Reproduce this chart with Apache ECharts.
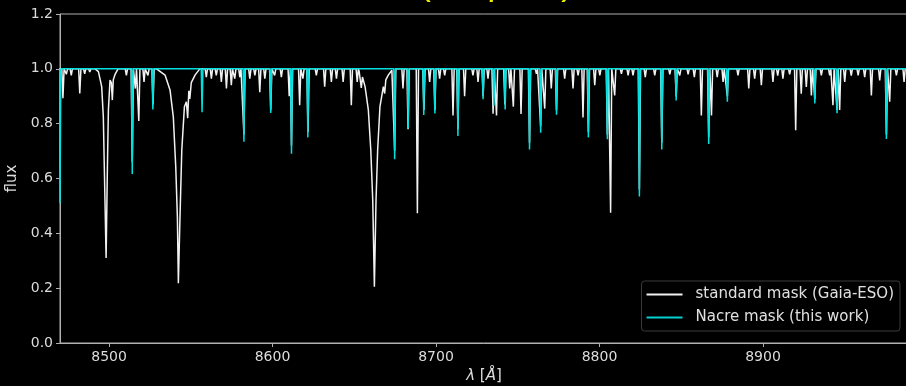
<!DOCTYPE html>
<html>
<head>
<meta charset="utf-8">
<script src="https://cdn.jsdelivr.net/npm/echarts@6/dist/echarts.min.js"></script>
<style>
html, body { margin: 0; padding: 0; background: #000; }
#chart { width: 906px; height: 386px; }
</style>
</head>
<body>
<div id="chart"></div>
<script>
var xTicks = [8500, 8600, 8700, 8800, 8900];
var yTicks = [0, 0.2, 0.4, 0.6, 0.8, 1.0, 1.2];
var seriesNames = ['standard mask (Gaia-ESO)', 'Nacre mask (this work)'];
var titleText = '(template)';

// Ca II triplet, broad profiles [wavelength, flux]
var ca8498 = [[8491.5, 1.0], [8493.5, 0.99], [8495.5, 0.935], [8496.5, 0.825], [8497.1, 0.643],
    [8498.2, 0.31], [8499.0, 0.643], [8499.6, 0.85], [8500.6, 0.959], [8501.4, 0.95],
    [8502.0, 0.886], [8502.6, 0.96], [8503.7, 0.98], [8505.5, 1.0]];
var ca8542 = [[8529.0, 1.0], [8534.3, 0.977], [8537.3, 0.923], [8539.3, 0.825], [8540.8, 0.643],
    [8541.8, 0.46], [8542.4, 0.218], [8543.4, 0.46], [8544.5, 0.704], [8546.1, 0.862],
    [8547.3, 0.88], [8548.1, 0.82], [8548.8, 0.92], [8549.4, 0.89], [8550.3, 0.95],
    [8552.6, 0.977], [8555.5, 1.0]];
var ca8662 = [[8653.0, 0.99], [8654.3, 0.93], [8655.0, 0.97], [8656.6, 0.935], [8658.6, 0.85],
    [8660.1, 0.704], [8661.3, 0.52], [8662.3, 0.205], [8663.3, 0.52], [8664.3, 0.704],
    [8665.7, 0.862], [8667.8, 0.935], [8668.6, 0.91], [8669.3, 0.96], [8670.8, 0.977],
    [8673.0, 0.995]];

// narrow lines of the standard mask [centre, flux at centre]
var standardLines = [
    [8471.8, 0.893], [8473.9, 0.98], [8476.9, 0.976], [8482.1, 0.91], [8485.1, 0.982], [8488.2, 0.988],
    [8510.6, 0.976], [8514.2, 0.66], [8516.1, 0.928], [8518.2, 0.81], [8521.4, 0.952], [8523.8, 0.976],
    [8526.9, 0.87], [8559.5, 0.97], [8562.6, 0.964], [8565.6, 0.976], [8568.7, 0.952], [8571.8, 0.928],
    [8574.8, 0.94], [8576.9, 0.964], [8580.0, 0.97], [8582.5, 0.76], [8586.1, 0.964], [8589.2, 0.976],
    [8592.2, 0.915], [8595.3, 0.964], [8598.9, 0.85], [8601.3, 0.976], [8605.4, 0.97], [8610.2, 0.90],
    [8611.6, 0.72], [8616.6, 0.867], [8618.6, 0.964], [8621.7, 0.77], [8626.8, 0.976], [8631.9, 0.935],
    [8636.0, 0.952], [8639.1, 0.964], [8643.2, 0.952], [8648.2, 0.867], [8651.8, 0.952],
    [8674.7, 0.70], [8679.8, 0.928], [8682.9, 0.78], [8688.6, 0.473], [8692.6, 0.85], [8696.1, 0.952],
    [8699.3, 0.85], [8702.2, 0.964], [8705.3, 0.976], [8710.4, 0.83], [8713.4, 0.78], [8717.5, 0.90],
    [8722.6, 0.976], [8725.7, 0.952], [8728.8, 0.90], [8731.8, 0.964], [8734.9, 0.836], [8737.0, 0.83],
    [8742.1, 0.87], [8745.1, 0.928], [8747.3, 0.862], [8752.0, 0.835], [8757.2, 0.73], [8761.4, 0.982],
    [8764.0, 0.79], [8766.5, 0.855], [8770.5, 0.928], [8773.7, 0.85], [8778.7, 0.964], [8783.8, 0.928],
    [8786.9, 0.976], [8789.9, 0.823], [8793.2, 0.77], [8797.1, 0.94], [8800.2, 0.976], [8804.8, 0.76],
    [8806.8, 0.475], [8809.3, 0.903], [8813.4, 0.982], [8817.5, 0.976], [8820.5, 0.976], [8824.4, 0.56],
    [8828.0, 0.97], [8833.8, 0.976], [8838.1, 0.73], [8843.0, 0.98], [8846.9, 0.90], [8849.1, 0.976],
    [8854.2, 0.98], [8858.0, 0.97], [8862.3, 0.83], [8866.8, 0.75], [8868.5, 0.83], [8872.0, 0.97],
    [8875.6, 0.952], [8878.2, 0.90], [8884.7, 0.976], [8891.3, 0.928], [8894.9, 0.964], [8899.0, 0.94],
    [8906.1, 0.952], [8909.0, 0.975], [8912.2, 0.964], [8916.3, 0.98], [8920.0, 0.776], [8923.4, 0.909],
    [8926.5, 0.934], [8929.6, 0.903], [8931.7, 0.89], [8935.7, 0.976], [8940.8, 0.976], [8942.8, 0.867],
    [8945.3, 0.85], [8946.9, 0.85], [8950.0, 0.952], [8954.0, 0.975], [8958.2, 0.976], [8962.2, 0.97],
    [8966.3, 0.903], [8971.4, 0.958], [8975.5, 0.76], [8977.5, 0.88], [8981.6, 0.976], [8986.3, 0.952]
];

// Nacre mask lines [centre, flux at centre]
var nacreLines = [
    [8470.0, 0.51], [8514.2, 0.616], [8526.8, 0.852], [8556.9, 0.842], [8582.5, 0.734], [8598.9, 0.839],
    [8611.6, 0.69], [8621.6, 0.75], [8674.7, 0.67], [8683.0, 0.783], [8692.5, 0.832], [8699.3, 0.837],
    [8713.4, 0.755], [8728.8, 0.889], [8735.4, 0.865], [8742.3, 0.852], [8757.2, 0.706], [8764.0, 0.767],
    [8773.7, 0.833], [8793.2, 0.75], [8804.8, 0.743], [8824.4, 0.534], [8838.1, 0.706], [8846.9, 0.885],
    [8866.8, 0.726], [8878.2, 0.88], [8931.7, 0.874], [8945.3, 0.838], [8975.5, 0.744]
];

function buildSpectrum(lines, halfWidth, profiles) {
    var pts = [[8460, 1], [8995, 1]];
    lines.forEach(function (l) {
        pts.push([l[0] - halfWidth, 1], [l[0], l[1]], [l[0] + halfWidth, 1]);
    });
    profiles.forEach(function (p) {
        p.forEach(function (q) { pts.push(q); });
    });
    pts.sort(function (a, b) { return a[0] - b[0]; });
    return pts;
}

var standardData = buildSpectrum(standardLines, 0.7, [ca8498, ca8542, ca8662]);
var nacreData = buildSpectrum(nacreLines, 0.5, []);

var axisColor = '#b0b0b0';
var labelColor = '#dcdcdc';

var myChart = echarts.init(document.getElementById('chart'));
var option = {
    backgroundColor: '#000',
    animation: false,
    textStyle: { fontFamily: 'DejaVu Sans' },
    // title sits above the crop, only its descenders show
    graphic: [{
        type: 'text',
        x: 496,
        y: -14,
        style: {
            text: titleText,
            fill: '#f2f200',
            font: '34px Liberation Sans',
            align: 'center',
            verticalAlign: 'middle'
        }
    }],
    grid: {
        left: 60, right: -2, top: 14, bottom: 43,
        outerBoundsMode: 'none',
        containLabel: false,
        show: true, borderColor: axisColor, borderWidth: 1
    },
    legend: {
        data: seriesNames,
        orient: 'vertical',
        right: 6,
        top: 281,
        icon: 'rect',
        itemWidth: 36,
        itemHeight: 2,
        itemGap: 8,
        padding: [6, 6, 6, 5],
        backgroundColor: '#000',
        borderColor: '#3a3a3a',
        borderWidth: 1,
        borderRadius: 3,
        textStyle: { color: '#e0e0e0', fontSize: 15, padding: [0, 0, 0, 8] }
    },
    xAxis: {
        type: 'value',
        min: 8470,
        max: 8988.7,
        name: '{i|λ} [{i|Å}]',
        nameLocation: 'middle',
        nameGap: 24,
        nameTextStyle: {
            color: labelColor, fontSize: 15,
            rich: { i: { fontStyle: 'italic', color: labelColor, fontSize: 15 } }
        },
        axisLine: { lineStyle: { color: axisColor } },
        axisTick: { customValues: xTicks, length: 4, lineStyle: { color: axisColor } },
        axisLabel: {
            customValues: xTicks, color: labelColor, fontSize: 14, margin: 7,
            formatter: function (v) { return String(v); }
        },
        splitLine: { show: false }
    },
    yAxis: {
        type: 'value',
        min: 0,
        max: 1.2,
        name: 'flux',
        nameLocation: 'middle',
        nameGap: 36,
        nameTextStyle: { color: labelColor, fontSize: 15 },
        axisLine: { show: true, onZero: false, lineStyle: { color: axisColor } },
        axisTick: { show: true, customValues: yTicks, length: 4, lineStyle: { color: axisColor } },
        axisLabel: {
            customValues: yTicks, color: labelColor, fontSize: 14, margin: 7,
            formatter: function (v) { return v.toFixed(1); }
        },
        splitLine: { show: false }
    },
    series: [
        {
            name: seriesNames[0],
            type: 'line',
            data: standardData,
            symbol: 'none',
            lineStyle: { color: '#f2f2f2', width: 1.5 },
            itemStyle: { color: '#f2f2f2' },
            z: 2
        },
        {
            name: seriesNames[1],
            type: 'line',
            data: nacreData,
            symbol: 'none',
            lineStyle: { color: '#00e0e0', width: 1.5 },
            itemStyle: { color: '#00d0d0' },
            z: 3
        }
    ]
};
myChart.setOption(option);
</script>
</body>
</html>
